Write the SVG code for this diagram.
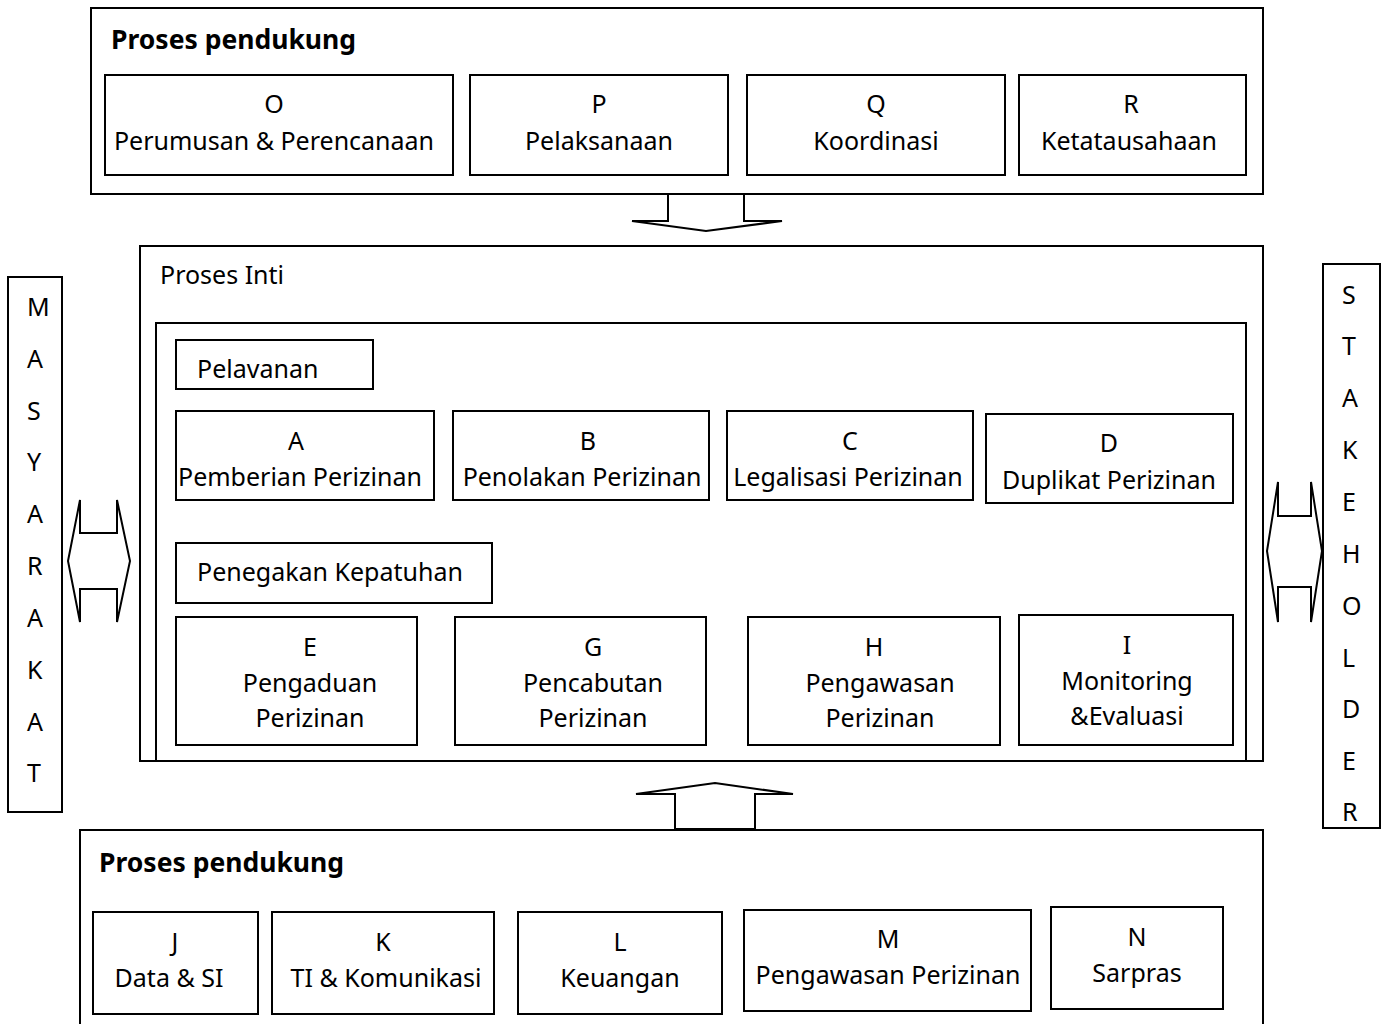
<svg xmlns="http://www.w3.org/2000/svg" width="1387" height="1024" viewBox="0 0 1387 1024">
  <style>
    .box { fill: #ffffff; stroke: #000000; stroke-width: 2; }
    .frame { fill: none; stroke: #000000; stroke-width: 2; }
    .arrow { fill: #ffffff; stroke: #000000; stroke-width: 2; stroke-linejoin: miter; }
    text { font-family: "Noto Sans", "Open Sans", sans-serif; font-size: 25px; fill: #000000; }
    .c { text-anchor: middle; }
    .title { font-weight: bold; font-size: 26.5px; }
  </style>
  <rect width="1387" height="1024" fill="#ffffff"/>

  <!-- upper support processes -->
  <g id="support-top">
    <rect class="frame" x="91" y="8" width="1172" height="186"/>
    <text class="title" x="111" y="49">Proses pendukung</text>
  </g>
  <g id="node-O">
    <rect class="box" x="105" y="75" width="348" height="100"/>
    <text class="c" x="274" y="113">O</text>
    <text class="c" x="274" y="150">Perumusan &amp; Perencanaan</text>
  </g>
  <g id="node-P">
    <rect class="box" x="470" y="75" width="258" height="100"/>
    <text class="c" x="599" y="113">P</text>
    <text class="c" x="599" y="150">Pelaksanaan</text>
  </g>
  <g id="node-Q">
    <rect class="box" x="747" y="75" width="258" height="100"/>
    <text class="c" x="876" y="113">Q</text>
    <text class="c" x="876" y="150">Koordinasi</text>
  </g>
  <g id="node-R">
    <rect class="box" x="1019" y="75" width="227" height="100"/>
    <text class="c" x="1131" y="113">R</text>
    <text class="c" x="1129" y="150">Ketatausahaan</text>
  </g>

  <!-- core processes -->
  <g id="core">
    <rect class="frame" x="140" y="246" width="1123" height="515"/>
    <text x="160" y="284">Proses Inti</text>
    <rect class="frame" x="156" y="323" width="1090" height="438"/>
  </g>
  <g id="group-pelayanan">
    <rect class="box" x="176" y="340" width="197" height="49"/>
    <text x="197" y="378">Pelavanan</text>
  </g>
  <g id="node-A">
    <rect class="box" x="176" y="411" width="258" height="89"/>
    <text class="c" x="296" y="450">A</text>
    <text class="c" x="300" y="486">Pemberian Perizinan</text>
  </g>
  <g id="node-B">
    <rect class="box" x="453" y="411" width="256" height="89"/>
    <text class="c" x="588" y="450">B</text>
    <text class="c" x="582" y="486">Penolakan Perizinan</text>
  </g>
  <g id="node-C">
    <rect class="box" x="727" y="411" width="246" height="89"/>
    <text class="c" x="850" y="450">C</text>
    <text class="c" x="848" y="486">Legalisasi Perizinan</text>
  </g>
  <g id="node-D">
    <rect class="box" x="986" y="414" width="247" height="89"/>
    <text class="c" x="1109" y="452">D</text>
    <text class="c" x="1109" y="489">Duplikat Perizinan</text>
  </g>
  <g id="group-penegakan">
    <rect class="box" x="176" y="543" width="316" height="60"/>
    <text x="197" y="581">Penegakan Kepatuhan</text>
  </g>
  <g id="node-E">
    <rect class="box" x="176" y="617" width="241" height="128"/>
    <text class="c" x="310" y="656">E</text>
    <text class="c" x="310" y="692">Pengaduan</text>
    <text class="c" x="310" y="727">Perizinan</text>
  </g>
  <g id="node-G">
    <rect class="box" x="455" y="617" width="251" height="128"/>
    <text class="c" x="593" y="656">G</text>
    <text class="c" x="593" y="692">Pencabutan</text>
    <text class="c" x="593" y="727">Perizinan</text>
  </g>
  <g id="node-H">
    <rect class="box" x="748" y="617" width="252" height="128"/>
    <text class="c" x="874" y="656">H</text>
    <text class="c" x="880" y="692">Pengawasan</text>
    <text class="c" x="880" y="727">Perizinan</text>
  </g>
  <g id="node-I">
    <rect class="box" x="1019" y="615" width="214" height="130"/>
    <text class="c" x="1127" y="654">I</text>
    <text class="c" x="1127" y="690">Monitoring</text>
    <text class="c" x="1127" y="725">&amp;Evaluasi</text>
  </g>

  <!-- lower support processes -->
  <g id="support-bottom">
    <rect class="frame" x="80" y="830" width="1183" height="210"/>
    <text class="title" x="99" y="872">Proses pendukung</text>
  </g>
  <g id="node-J">
    <rect class="box" x="93" y="912" width="165" height="102"/>
    <text class="c" x="175" y="951">J</text>
    <text class="c" x="169" y="987">Data &amp; SI</text>
  </g>
  <g id="node-K">
    <rect class="box" x="272" y="912" width="222" height="102"/>
    <text class="c" x="383" y="951">K</text>
    <text class="c" x="386" y="987">TI &amp; Komunikasi</text>
  </g>
  <g id="node-L">
    <rect class="box" x="518" y="912" width="204" height="102"/>
    <text class="c" x="620" y="951">L</text>
    <text class="c" x="620" y="987">Keuangan</text>
  </g>
  <g id="node-M">
    <rect class="box" x="744" y="910" width="287" height="101"/>
    <text class="c" x="888" y="948">M</text>
    <text class="c" x="888" y="984">Pengawasan Perizinan</text>
  </g>
  <g id="node-N">
    <rect class="box" x="1051" y="907" width="172" height="102"/>
    <text class="c" x="1137" y="946">N</text>
    <text class="c" x="1137" y="982">Sarpras</text>
  </g>

  <!-- side actors, lettered vertically -->
  <g id="masyarakat">
    <rect class="box" x="8" y="277" width="54" height="535"/>
    <text x="27" y="316">M</text>
    <text x="27" y="368">A</text>
    <text x="27" y="420">S</text>
    <text x="27" y="471">Y</text>
    <text x="27" y="523">A</text>
    <text x="27" y="575">R</text>
    <text x="27" y="627">A</text>
    <text x="27" y="679">K</text>
    <text x="27" y="731">A</text>
    <text x="27" y="782">T</text>
  </g>
  <g id="stakeholder">
    <rect class="box" x="1323" y="264" width="57" height="564"/>
    <text x="1342" y="304">S</text>
    <text x="1342" y="355">T</text>
    <text x="1342" y="407">A</text>
    <text x="1342" y="459">K</text>
    <text x="1342" y="511">E</text>
    <text x="1342" y="563">H</text>
    <text x="1342" y="615">O</text>
    <text x="1342" y="667">L</text>
    <text x="1342" y="718">D</text>
    <text x="1342" y="770">E</text>
    <text x="1342" y="821">R</text>
  </g>

  <!-- block arrows between the layers -->
  <g id="connectors">
    <polygon class="arrow" points="668,194 668,221 632,221 706,231 782,221 744,221 744,194"/>
    <polygon class="arrow" points="675,829 675,794 636,794 715,783 793,794 755,794 755,829"/>
    <polygon class="arrow" points="80,500 80,533 117,533 117,500 130,561 117,622 117,589 80,589 80,622 68,561"/>
    <polygon class="arrow" points="1278,482 1278,516 1311,516 1311,482 1322,551 1311,622 1311,587 1278,587 1278,622 1267,551"/>
  </g>
</svg>
